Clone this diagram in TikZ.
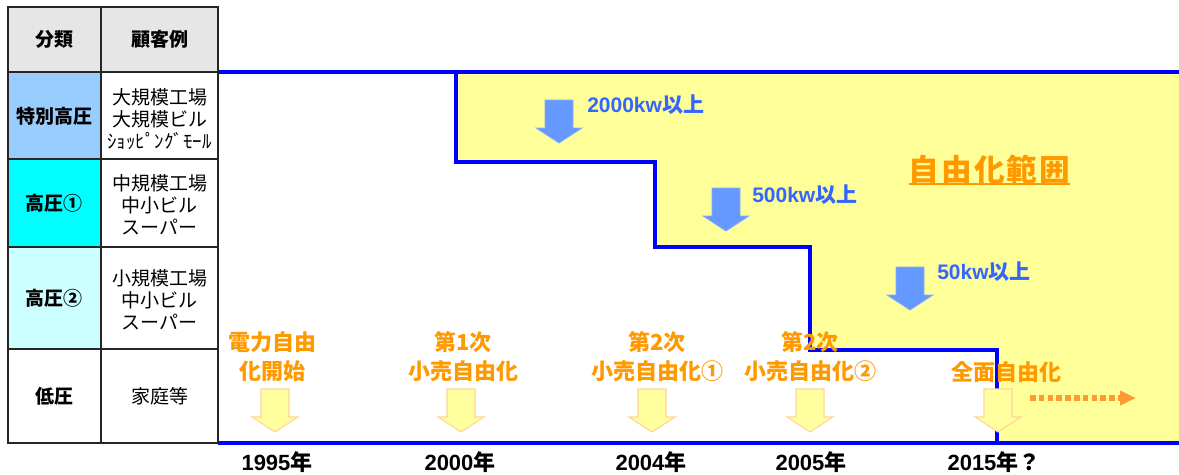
\documentclass[tikz,border=0pt]{standalone}
\usepackage{fontspec}
\setmainfont{Liberation Sans}
\newfontfamily\jp{Noto Sans CJK JP}
\usetikzlibrary{arrows.meta}
\definecolor{hdr}{RGB}{230,230,230}
\definecolor{tokubetsu}{RGB}{153,204,255}
\definecolor{koatsuA}{RGB}{0,255,255}
\definecolor{koatsuB}{RGB}{204,255,255}
\definecolor{zone}{RGB}{255,255,153}
\definecolor{stepblue}{RGB}{0,0,255}
\definecolor{lblblue}{RGB}{51,102,255}
\definecolor{arrblue}{RGB}{102,153,255}
\definecolor{evorange}{RGB}{255,153,0}
\definecolor{dotorange}{RGB}{255,153,51}
\definecolor{yarrfill}{RGB}{255,255,160}
\definecolor{yarredge}{RGB}{255,212,150}
\tikzset{
  cellbox/.style={draw=black!85, line width=1.1pt},
  celltext/.style={inner sep=0pt, align=center, font=\jp\fontsize{14.25pt}{16.5pt}\selectfont},
  cellhead/.style={celltext, font=\jp\bfseries\fontsize{14.25pt}{16.5pt}\selectfont},
  stepline/.style={draw=stepblue, line width=3pt, line join=miter},
  downarr/.pic={\path[pic actions] (-14,0) -- (14,0) -- (14,28) -- (23,28) -- (0,43) -- (-23,28) -- (-14,28) -- cycle;},
  bluearr/.style={fill=arrblue, draw=arrblue!80!white, line width=0.6pt},
  yelarr/.style={fill=yarrfill, draw=yarredge, line width=0.8pt},
  bluelbl/.style={inner sep=0pt, anchor=west, text=lblblue, font=\bfseries\fontsize{15.75pt}{18pt}\selectfont},
  evlabel/.style={inner sep=0pt, align=center, text=evorange, font=\jp\bfseries\fontsize{16.5pt}{21.75pt}\selectfont},
  yearlbl/.style={inner sep=0pt, text=black, font=\bfseries\fontsize{16.5pt}{18pt}\selectfont},
}
\begin{document}
\begin{tikzpicture}[x=0.75pt,y=-0.75pt]
\useasboundingbox (0,0) rectangle (1179,475);
\fill[white] (0,0) rectangle (1179,475);
% liberalised zone
\fill[zone] (456,72) -- (1179,72) -- (1179,443) -- (997,443) -- (997,350) -- (810,350) -- (810,247) -- (655,247) -- (655,162) -- (456,162) -- cycle;
\draw[stepline] (218,72) -- (1179,72);
\draw[stepline] (456,72) -- (456,162) -- (655,162) -- (655,247) -- (810,247) -- (810,350) -- (997,350) -- (997,443);
\draw[stepline] (218,443) -- (1179,443);
% table
\draw[cellbox, fill=hdr] (8,7) rectangle (101,72);
\draw[cellbox, fill=hdr] (101,7) rectangle (218,72);
\draw[cellbox, fill=tokubetsu] (8,72) rectangle (101,159);
\draw[cellbox, fill=white] (101,72) rectangle (218,159);
\draw[cellbox, fill=koatsuA] (8,159) rectangle (101,247);
\draw[cellbox, fill=white] (101,159) rectangle (218,247);
\draw[cellbox, fill=koatsuB] (8,247) rectangle (101,349);
\draw[cellbox, fill=white] (101,247) rectangle (218,349);
\draw[cellbox, fill=white] (8,349) rectangle (101,443);
\draw[cellbox, fill=white] (101,349) rectangle (218,443);
\node[cellhead] (hA) at (54.5,39.5) {分類};
\node[cellhead] (hB) at (159.5,39.5) {顧客例};
\node[cellhead] (rA1) at (54.5,116) {特別高圧};
\node[celltext] (rB1) at (159.5,119) {大規模工場\\大規模ビル\\ｼｮｯﾋﾟﾝｸﾞﾓｰﾙ};
\node[cellhead] (rA2) at (54.5,203) {高圧①};
\node[celltext] (rB2) at (159.5,205) {中規模工場\\中小ビル\\スーパー};
\node[cellhead] (rA3) at (54.5,298) {高圧②};
\node[celltext] (rB3) at (159.5,300) {小規模工場\\中小ビル\\スーパー};
\node[cellhead] (rA4) at (54.5,396) {低圧};
\node[celltext] (rB4) at (159.5,396) {家庭等};
% blue threshold arrows
\pic[bluearr] at (559,100) {downarr};
\pic[bluearr] at (726,188) {downarr};
\pic[bluearr] at (910,267) {downarr};
\node[bluelbl] (t2000) at (587,105) {2000kw{\jp 以上}};
\node[bluelbl] (t500) at (752,195) {500kw{\jp 以上}};
\node[bluelbl] (t50) at (937,272) {50kw{\jp 以上}};
% zone title
\node[inner sep=0pt, text=evorange, font=\jp\bfseries\fontsize{23pt}{26pt}\selectfont] (zt) at (989.5,170) {自\kern1.5pt 由\kern1.5pt 化\kern1.5pt 範\kern1.5pt 囲};
\draw[evorange, line width=1.6pt] (zt.south west |- 0,184) -- (zt.south east |- 0,184);
% event labels
\node[evlabel] (e1) at (272,357) {電力自由\\化開始};
\node[evlabel] (e2) at (463,357) {第1次\\小売自由化};
\node[evlabel] (e3) at (657,357) {第2次\\小売自由化①};
\node[evlabel] (e4) at (810,357) {第2次\\小売自由化②};
% yellow arrows
\pic[yelarr] at (275,389) {downarr};
\pic[yelarr] at (461,389) {downarr};
\pic[yelarr] at (652,389) {downarr};
\pic[yelarr] at (810,389) {downarr};
\pic[yelarr] at (998,389) {downarr};
\node[evlabel] (e5) at (1006,372) {全面自由化};
% dotted continuation arrow
\coordinate (dA) at (1030,398);
\coordinate (dB) at (1136,398);
\draw[dotorange, line width=4pt, dash pattern=on 4.2pt off 2.4pt, -{Triangle[length=12pt,width=10.5pt]}] (dA) -- (dB);
% years
\node[yearlbl] (y1) at (277,462) {1995{\jp 年}};
\node[yearlbl] (y2) at (460,462) {2000{\jp 年}};
\node[yearlbl] (y3) at (651,462) {2004{\jp 年}};
\node[yearlbl] (y4) at (811,462) {2005{\jp 年}};
\node[yearlbl] (y5) at (994,462) {2015{\jp 年？}};
\end{tikzpicture}
\end{document}
